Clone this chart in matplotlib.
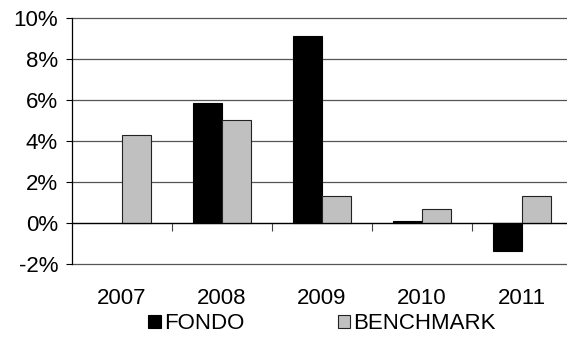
import numpy as np
import matplotlib.pyplot as plt
from matplotlib.ticker import FuncFormatter

plt.rcParams['font.family'] = ['Liberation Sans', 'DejaVu Sans']

years = ['2007', '2008', '2009', '2010', '2011']
fondo = [np.nan, 5.85, 9.1, 0.07, -1.35]
benchmark = [4.3, 5.0, 1.3, 0.7, 1.3]

fig = plt.figure(figsize=(5.67, 3.45), dpi=100)
ax = fig.add_axes([0.127, 0.235, 0.882, 0.713])

x = np.arange(len(years))
w = 0.287
ax.bar(x - w / 2, fondo, w, color='black', edgecolor='black', linewidth=0.8, label='FONDO', zorder=3)
ax.bar(x + w / 2, benchmark, w, color='#c0c0c0', edgecolor='#222222', linewidth=0.8, label='BENCHMARK', zorder=3)

ax.set_ylim(-2, 10)
ax.set_xlim(-0.5, len(years) - 0.5)
ax.set_yticks(np.arange(-2, 11, 2))
ax.yaxis.set_major_formatter(FuncFormatter(lambda v, p: f'{v:.0f}%'))
ax.yaxis.grid(True, color='#555555', linewidth=0.9, zorder=0)
for gl in ax.get_ygridlines():
    gl.set_clip_on(False)
ax.axhline(0, color='black', linewidth=0.9, zorder=4)

for s in ['top', 'right', 'bottom']:
    ax.spines[s].set_visible(False)
ax.spines['left'].set_linewidth(0.9)
ax.tick_params(axis='y', labelsize=16, length=4, width=0.8, pad=6)
ax.set_xticks(x, years)
ax.tick_params(axis='x', labelsize=16, length=0, pad=17)

# tick marks on the zero line at category boundaries
sec = ax.secondary_xaxis(1 / 6)
sec.set_xticks(x[:-1] + 0.5, ['' for _ in x[:-1]])
sec.spines['bottom'].set_visible(False)
sec.tick_params(length=6, width=0.8, color='#444444')

fig.legend(loc='center', bbox_to_anchor=(0.568, 0.062), ncol=2, frameon=False,
           fontsize=16, handlelength=0.55, handleheight=0.55, handletextpad=0.15,
           columnspacing=4.2)

fig.savefig('out.png', dpi=100)
